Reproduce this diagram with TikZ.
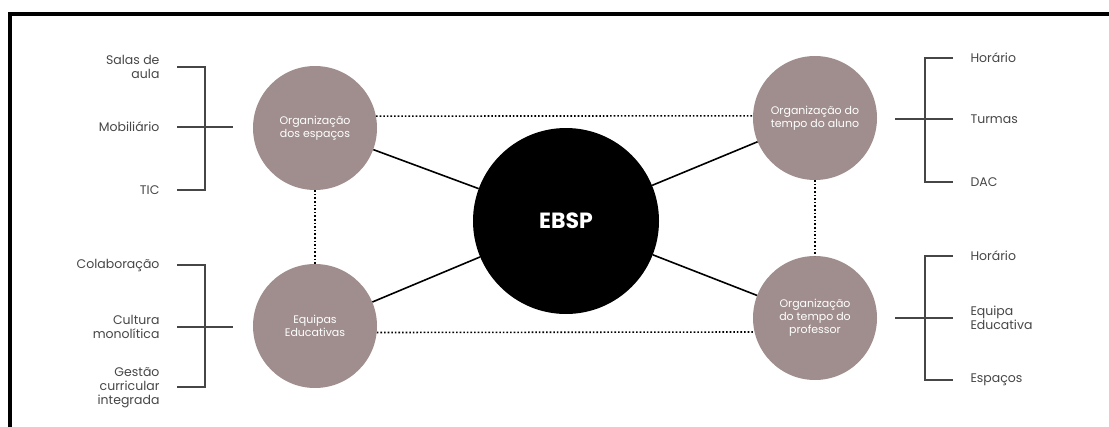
\documentclass[tikz,border=0pt]{standalone}
\usepackage{fontspec}
\setmainfont{Poppins}
\definecolor{taupe}{RGB}{160,142,142}
\definecolor{labelgray}{RGB}{70,70,70}

\begin{document}
\begin{tikzpicture}[x=1pt,y=-1pt,
  area/.style={circle,fill=taupe,minimum size=124pt,inner sep=0pt,
    text=white,align=center,font=\fontsize{11}{13}\selectfont},
  item/.style={text=labelgray,font=\fontsize{12.5}{14}\selectfont},
  tie/.style={line width=1.6pt},
  link/.style={dotted,line width=1.6pt},
  brace/.style={line width=1.2pt,labelgray}]
\useasboundingbox (0,0) rectangle (1109,426);

% frame
\draw[line width=4pt] (10,430) -- (10,14) -- (1115,14);

% circles
\node[circle,fill=black,minimum size=186pt,text=white,
      font=\fontsize{22}{24}\selectfont\bfseries] (ebsp) at (566,221) {EBSP};
\node[area] (espacos) at (315,128) {Organização\\dos espaços};
\node[area] (aluno)   at (815,118) {Organização do\\tempo do aluno};
\node[area] (equipas) at (315,326) {Equipas\\Educativas};
\node[area] (prof)    at (815,318) {Organização\\do tempo do\\professor};

\draw[tie] (ebsp) -- (espacos);
\draw[tie] (ebsp) -- (aluno);
\draw[tie] (ebsp) -- (equipas);
\draw[tie] (ebsp) -- (prof);

\draw[link] (espacos.11)  -- (aluno.178);
\draw[link] (equipas.-6)  -- (prof.193);
\draw[link] (espacos.south) -- (equipas.north);
\draw[link] (aluno.south)   -- (prof.north);

% left brackets
\draw[brace] (177,67) -- (205,67) -- (205,190) -- (177,190);
\draw[brace] (177,127) -- (233,127);
\node[item,anchor=east,align=right] (salas) at (163,67)  {Salas de\\aula};
\node[item,anchor=east] (mobil) at (163,127) {Mobiliário};
\node[item,anchor=east] (tic)   at (163,190) {TIC};

\draw[brace] (177,265) -- (205,265) -- (205,387) -- (177,387);
\draw[brace] (177,327) -- (233,327);
\node[item,anchor=east] (colab) at (163,265) {Colaboração};
\node[item,anchor=east,align=right] (cultura) at (163,327) {Cultura\\monolítica};
\node[item,anchor=east,align=right] (gestao)  at (163,388) {Gestão\\curricular\\integrada};

% right brackets
\draw[brace] (953,58) -- (925,58) -- (925,182) -- (953,182);
\draw[brace] (895,119) -- (953,119);
\node[item,anchor=west] (hor1)   at (967,58)  {Horário};
\node[item,anchor=west] (turmas) at (967,119) {Turmas};
\node[item,anchor=west] (dac)    at (967,182) {DAC};

\draw[brace] (953,256) -- (925,256) -- (925,380) -- (953,380);
\draw[brace] (895,318) -- (953,318);
\node[item,anchor=west] (hor2)  at (967,256) {Horário};
\node[item,anchor=west,align=left] (equipa) at (967,318) {Equipa\\Educativa};
\node[item,anchor=west] (esp)   at (967,380) {Espaços};

\end{tikzpicture}
\end{document}
